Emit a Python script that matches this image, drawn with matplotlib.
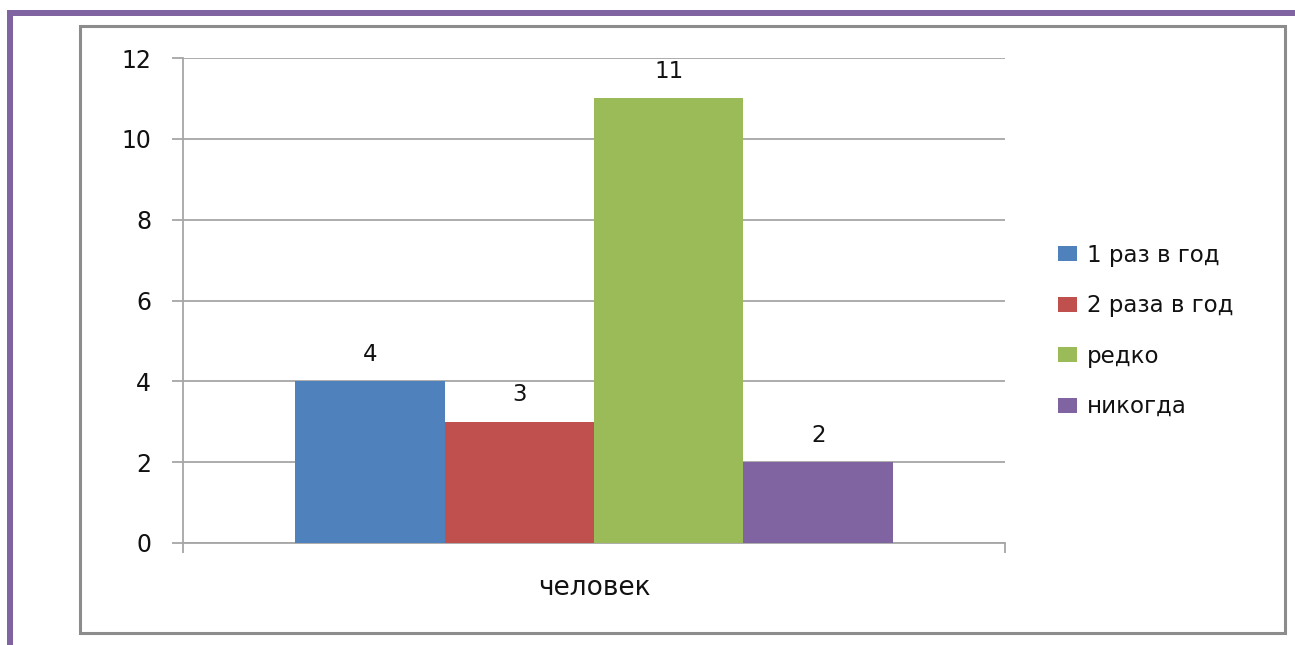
import matplotlib
matplotlib.use("Agg")
import matplotlib.pyplot as plt
from matplotlib.patches import Rectangle

series = ["1 раз в год", "2 раза в год", "редко", "никогда"]
values = [4, 3, 11, 2]
category = "человек"
colors = ["#4F81BD", "#C0504D", "#9BBB59", "#8064A2"]
yticks = [0, 2, 4, 6, 8, 10, 12]

plt.rcParams['font.family'] = ['DejaVu Sans']

W, H = 1295, 645
fig = plt.figure(figsize=(W / 100, H / 100), dpi=100)

def fx(px):
    return px / W

def fy(py):
    return 1 - py / H

# purple page border (top and left)
purple = "#8064A2"
fig.add_artist(Rectangle((fx(7), fy(16)), fx(1295 - 7), fy(10) - fy(16),
                         transform=fig.transFigure, facecolor=purple, edgecolor='none'))
fig.add_artist(Rectangle((fx(7), fy(645)), fx(6), fy(10) - fy(645),
                         transform=fig.transFigure, facecolor=purple, edgecolor='none'))

# chart box
fig.add_artist(Rectangle((fx(80), fy(633)), fx(1285 - 80), fy(26) - fy(633),
                         transform=fig.transFigure, facecolor='none',
                         edgecolor='#8C8C8C', linewidth=2.2))

ax = fig.add_axes([fx(183), fy(543), fx(1005 - 183), fy(58) - fy(543)])
ax.patch.set_alpha(0)
w = 1 / 5.5
start = -2 * w
gray = "#A6A6A6"
txt = '#111111'
for i, (lab, v, c) in enumerate(zip(series, values, colors)):
    bars = ax.bar(start + (i + 0.5) * w, v, width=w, color=c, label=lab, zorder=3)
    ax.bar_label(bars, labels=[str(v)], padding=11, fontsize=16.5, color=txt)

ax.set_xlim(-0.5, 0.5)
ax.set_ylim(0, 12)
ax.set_yticks(yticks)
ax.set_yticklabels([str(t) for t in yticks], fontsize=17, color=txt)
ax.yaxis.grid(True, color=gray, linewidth=1.3, zorder=0)
ax.tick_params(axis='y', length=8, width=1.3, color=gray, pad=15)

ax.set_xticks([0])
ax.set_xticklabels([category], fontsize=19, color=txt)
ax.tick_params(axis='x', which='major', length=0, pad=23)
ax.set_xticks([-0.5, 0.5], minor=True)
ax.tick_params(axis='x', which='minor', length=7, width=1.3, color=gray)

for s in ['top', 'right']:
    ax.spines[s].set_visible(False)
for s in ['left', 'bottom']:
    ax.spines[s].set_color(gray)
    ax.spines[s].set_linewidth(1.3)
ax.set_axisbelow(True)

handles = [Rectangle((0, 0), 1, 1, facecolor=c, edgecolor='none') for c in colors]
fig.legend(handles, series, loc='center left', bbox_to_anchor=(fx(1058), fy(331)),
           frameon=False, fontsize=16.5, handlelength=0.85, handleheight=0.65,
           handletextpad=0.42, labelspacing=1.2, borderpad=0, borderaxespad=0,
           labelcolor=txt)

fig.savefig("out.png", dpi=100)
